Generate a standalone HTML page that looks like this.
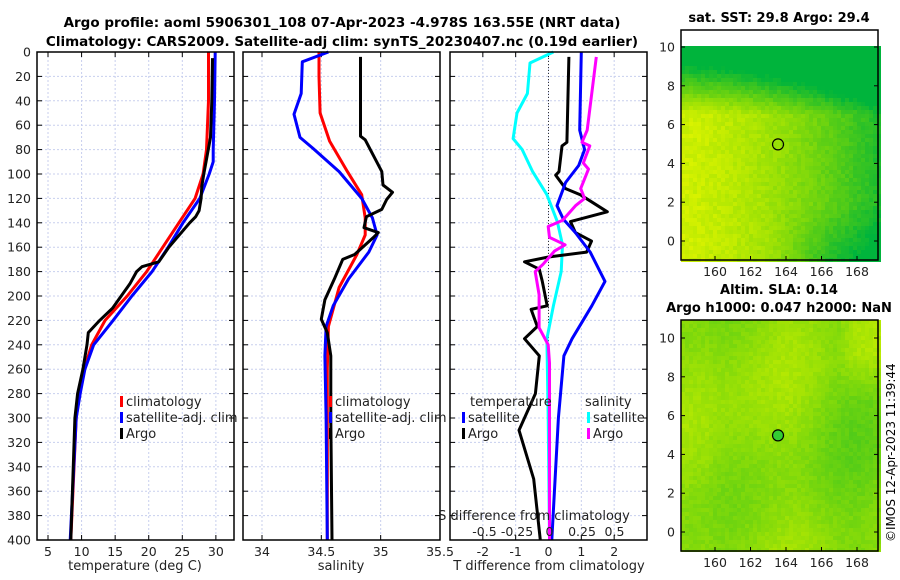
<!DOCTYPE html>
<html><head><meta charset="utf-8"><style>
body{margin:0;background:#fff}
svg{font-family:"DejaVu Sans","Liberation Sans",sans-serif;display:block}
</style></head><body>
<svg id="c" width="900" height="580" xmlns="http://www.w3.org/2000/svg">
<text x="342" y="27" text-anchor="middle" font-weight="bold" font-size="13.5">Argo profile: aoml 5906301_108 07-Apr-2023 -4.978S 163.55E (NRT data)</text>
<text x="342" y="46" text-anchor="middle" font-weight="bold" font-size="13.5">Climatology: CARS2009. Satellite-adj clim: synTS_20230407.nc (0.19d earlier)</text>
<text x="779" y="22" text-anchor="middle" font-weight="bold" font-size="13">sat. SST: 29.8 Argo: 29.4</text>
<text x="779" y="294" text-anchor="middle" font-weight="bold" font-size="13">Altim. SLA: 0.14</text>
<text x="779" y="312" text-anchor="middle" font-weight="bold" font-size="13">Argo h1000: 0.047 h2000: NaN</text>
<text transform="translate(895,542) rotate(-90)" font-size="12">©IMOS 12-Apr-2023 11:39:44</text>
</svg>
<script>
// ---- data (depth m, value) ----
const tClimDepth=[0,40,80,100,120,140,160,180,200,220,240,260,280,300,400];
const tClimVal=[28.9,28.9,28.6,28.1,26.9,24.5,22.1,19.7,16.8,13.5,11.5,10.4,9.7,9.2,8.4];
const tSatDepth=[0,40,80,90,100,120,140,160,180,200,220,240,260,280,300,400];
const tSatVal=[29.9,29.8,29.6,29.6,29.0,27.6,25.1,22.9,20.5,17.5,14.7,11.8,10.5,9.8,9.2,8.3];
const tArgoDepth=[5,40,70,100,110,120,130,135,140,160,172,176,180,190,200,210,220,230,240,260,280,300,400];
const tArgoVal=[29.5,29.4,29.2,28.2,27.9,27.8,27.5,27.0,26.1,23.0,21.5,19.0,18.2,17.2,15.9,14.6,12.7,11.0,10.8,10.2,9.4,9.0,8.4];
const sClimDepth=[0,20,50,73,98,117,136,150,166,193,225,260,400];
const sClimVal=[34.48,34.48,34.49,34.57,34.72,34.84,34.87,34.87,34.80,34.65,34.56,34.55,34.55];
const sSatDepth=[0,8,34,51,70,79,98,120,136,150,164,186,208,225,249,300,400];
const sSatVal=[34.56,34.34,34.33,34.27,34.32,34.43,34.65,34.84,34.93,34.97,34.90,34.73,34.60,34.54,34.53,34.54,34.55];
const sArgoDepth=[4,69,72,85,98,109,115,121,129,135,144,148,152,166,170,186,203,219,230,249,300,400];
const sArgoVal=[34.83,34.83,34.87,34.94,35.01,35.02,35.10,35.05,35.01,34.88,34.86,34.98,34.94,34.78,34.68,34.61,34.53,34.50,34.55,34.58,34.58,34.59];
const dTSatDepth=[0,64,80,93,107,126,137,148,164,188,208,235,249,300,400];
const dTSatVal=[1.0,0.95,1.1,0.92,0.52,0.26,0.45,0.82,1.27,1.72,1.32,0.72,0.47,0.3,0.1];
const dTArgoDepth=[4,74,77,98,101,112,117,131,139,148,155,164,168,172,178,188,208,211,225,235,249,280,310,350,400];
const dTArgoVal=[0.62,0.56,0.41,0.32,0.22,0.52,0.97,1.79,0.67,0.82,1.31,1.16,0,-0.73,-0.28,-0.19,-0.04,-0.53,-0.34,-0.73,-0.28,-0.4,-0.9,-0.45,-0.25];
const dSSatDepth=[0,9,34,50,71,80,98,117,139,158,180,208,235,300,400];
const dSSatVal=[0.03,-0.15,-0.17,-0.25,-0.28,-0.21,-0.13,-0.02,0.06,0.10,0.09,0.03,-0.02,-0.01,0];
const dSArgoDepth=[4,64,74,77,91,96,112,120,126,138,143,152,158,163,174,180,199,226,240,255,300,400];
const dSArgoVal=[0.36,0.29,0.25,0.31,0.26,0.30,0.24,0.27,0.20,0.10,-0.01,0,0.12,0.04,-0.05,-0.11,-0.08,-0.08,-0.01,0,0.0,0.0];
const depthTicks=[0,20,40,60,80,100,120,140,160,180,200,220,240,260,280,300,320,340,360,380,400];
const tTicks=[5,10,15,20,25,30];
const sTicks=[34,34.5,35,35.5];
const dTTicks=[-2,-1,0,1,2];
const dSTicks=[-0.5,-0.25,0,0.25,0.5];
const dSTickLabels=['-0.5','-0.25','0','0.25','0.5'];

const svg=document.getElementById('c');
const NS='http://www.w3.org/2000/svg';
function mk(tag,attrs,parent){const e=document.createElementNS(NS,tag);for(const k in attrs)e.setAttribute(k,attrs[k]);(parent||svg).appendChild(e);return e;}
const Y0=52,Y1=540;
const yD=d=>Y0+(Y1-Y0)*d/400;
const panels=[
 {name:'temperature',x0:37,x1:234,min:3.36,max:32.7},
 {name:'salinity',x0:243,x1:440,min:33.84,max:35.5},
 {name:'difference',x0:450,x1:647,min:-3,max:3}
];
const xs=(p,v)=>p.x0+(v-p.min)/(p.max-p.min)*(p.x1-p.x0);
const xSdiff=v=>549.5+130*v;

function drawGrid(p,ticks,labels){
  const g=mk('g',{});
  
  
  ticks.forEach((v,i)=>{const x=xs(p,v);
    mk('line',{x1:x,x2:x,y1:Y0,y2:Y1,stroke:'#c8cfee','stroke-dasharray':'2,2','stroke-width':1},g);
    mk('line',{x1:x,x2:x,y1:Y1,y2:Y1-5,stroke:'#000'},g);
    mk('line',{x1:x,x2:x,y1:Y0,y2:Y0+5,stroke:'#000'},g);
    const t=mk('text',{x:x,y:556,'text-anchor':'middle','font-size':12.5,fill:'#222'},g);t.textContent=labels?labels[i]:String(v);
  });
  depthTicks.forEach(d=>{const y=yD(d);
    mk('line',{x1:p.x0,x2:p.x1,y1:y,y2:y,stroke:'#c8cfee','stroke-dasharray':'2,2'},g);
    mk('line',{x1:p.x0,x2:p.x0+5,y1:y,y2:y,stroke:'#000'},g);
    mk('line',{x1:p.x1-5,x2:p.x1,y1:y,y2:y,stroke:'#000'},g);
  });
}
function line(p,depths,vals,color,name,xf){
  const pts=depths.map((d,i)=>(xf?xf(vals[i]):xs(p,vals[i])).toFixed(1)+','+yD(d).toFixed(1)).join(' ');
  const e=mk('polyline',{points:pts,fill:'none',stroke:color,'stroke-width':3,'stroke-linejoin':'round'});
  
  
}
function box(p){const r=mk('rect',{x:p.x0,y:Y0,width:p.x1-p.x0,height:Y1-Y0,fill:'none',stroke:'#000','stroke-width':1.5});
  
  }
function txt(x,y,s,size,anchor,name){const t=mk('text',{x:x,y:y,'font-size':size,'text-anchor':anchor||'start',fill:'#222'});t.textContent=s;
  
  return t;}

const P1=panels[0],P2=panels[1],P3=panels[2];
drawGrid(P1,tTicks);
depthTicks.forEach(d=>{txt(31,yD(d)+4.5,String(d),12.5,'end','depth-tick-label');});
line(P1,tClimDepth,tClimVal,'#ff0000','temp-climatology-line');
line(P1,tSatDepth,tSatVal,'#0000ff','temp-satellite-line');
line(P1,tArgoDepth,tArgoVal,'#000','temp-argo-line');
box(P1);
txt(135,570,'temperature (deg C)',13,'middle','temp-x-axis-title');
drawGrid(P2,sTicks);
line(P2,sClimDepth,sClimVal,'#ff0000','sal-climatology-line');
line(P2,sSatDepth,sSatVal,'#0000ff','sal-satellite-line');
line(P2,sArgoDepth,sArgoVal,'#000','sal-argo-line');
box(P2);
txt(341,570,'salinity',13,'middle','sal-x-axis-title');
drawGrid(P3,dTTicks);
mk('line',{x1:xs(P3,0),x2:xs(P3,0),y1:Y0,y2:Y1,stroke:'#333','stroke-dasharray':'1,2'});
line(P3,dSSatDepth,dSSatVal,'#00ffff','dsal-satellite-line',xSdiff);
line(P3,dTArgoDepth,dTArgoVal,'#000','dtemp-argo-line');
line(P3,dTSatDepth,dTSatVal,'#0000ff','dtemp-satellite-line');
line(P3,dSArgoDepth,dSArgoVal,'#ff00ff','dsal-argo-line',xSdiff);
box(P3);
txt(549,570,'T difference from climatology',13,'middle','dtemp-x-axis-title');
txt(534,520,'S difference from climatology',13,'middle','dsal-axis-title');
dSTicks.forEach((v,i)=>txt(xSdiff(v),536,dSTickLabels[i],12.5,'middle','dsal-tick-label'));

function legend(x,y,color,label){
  const r=mk('rect',{x:x,y:y-10,width:3,height:11,fill:color});
  
  
  txt(x+6,y,label,13,'start','legend-entry');
}
[[P1,120],[P2,329]].forEach(([p,x])=>{
  legend(x,406,'#ff0000','climatology');legend(x,422,'#0000ff','satellite-adj. clim');legend(x,438,'#000','Argo');
});
txt(470,406,'temperature',13,'start','legend-heading-temperature');
legend(462,422,'#0000ff','satellite');legend(462,438,'#000','Argo');
txt(585,406,'salinity',13,'start','legend-heading-salinity');
legend(587,422,'#00ffff','satellite');legend(587,438,'#ff00ff','Argo');

// maps
const mx=lon=>715+(lon-160)*17.75;
const cl=v=>Math.max(0,Math.min(1,v));
function hash(i,j){let h=(i*374761393+j*668265263)|0;h=(h^(h>>>13))*1274126177|0;h=h^(h>>>16);return ((h>>>0)%1000)/1000;}
function map(top,bottom,y10,y0,kind){
  const my=lat=>y0+(y10-y0)*lat/10;
  const g=mk('g',{});
  
  
  const cs=4;
  const yStart=kind==='sst'?Math.round(my(10.05)):top;
  for(let y=yStart;y<bottom;y+=cs){for(let x=681;x<878;x+=cs){
    const u=(x-681)/197,v=(y-top)/(bottom-top);
    const r=hash(x/cs|0,y/cs|0)-0.5;
    let t;
    if(kind==='sst'){
      t=0.08+0.55*u*u+0.25*u+0.95*cl((0.36-v)/0.22)+0.3*cl((v-0.75)/0.25)*cl((u-0.45)/0.3)+0.12*r;
      if(v<0.15)t+=0.15;
    } else {
      t=0.42+0.1*Math.sin(u*9)+0.08*Math.cos(v*7+u*3)-0.25*cl((0.3-Math.abs(u-0.12))/0.3)*0.6-0.2*cl((u-0.78)/0.1)*cl((0.35-v)/0.2)+0.1*r;
    }
    t=cl(t);
    const R=Math.round(225*(1-t)),G=Math.round(245-65*t),B=Math.round(60*t*t);
    mk('rect',{x:x,y:y,width:cs,height:cs,fill:`rgb(${R},${G},${B})`},g);
  }}
  const c=mk('circle',{cx:mx(163.55),cy:my(4.98),r:5.5,fill:kind==='sst'?'none':'#33cc33',stroke:'#000','stroke-width':1.2});
  
  
  const fr=mk('rect',{x:681,y:top,width:197,height:bottom-top,fill:'none',stroke:'#000','stroke-width':1.5});
  
  
  [160,162,164,166,168].forEach(l=>{mk('line',{x1:mx(l),x2:mx(l),y1:bottom,y2:bottom-4,stroke:'#000'});txt(mx(l),bottom+16,String(l),12.5,'middle','map-lon-tick');});
  [0,2,4,6,8,10].forEach(l=>{mk('line',{x1:681,x2:685,y1:my(l),y2:my(l),stroke:'#000'});mk('line',{x1:874,x2:878,y1:my(l),y2:my(l),stroke:'#000'});txt(675,my(l)+4.5,String(l),12.5,'end','map-lat-tick');});
}
map(30,260,47,241,'sst');
map(320,551,338,532,'sla');
</script>
</body></html>
